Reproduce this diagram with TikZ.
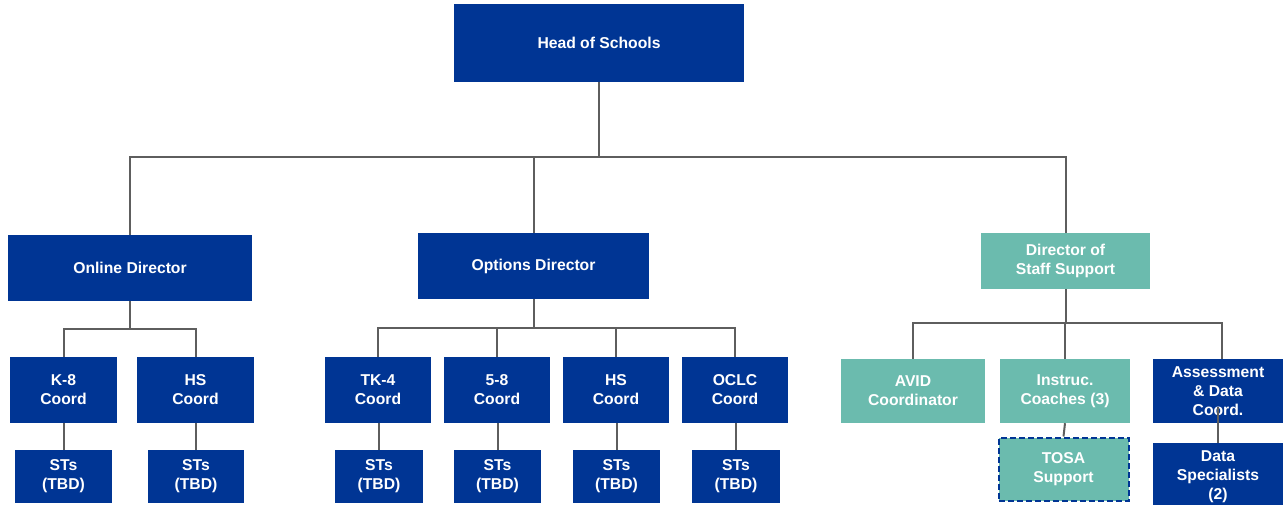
\documentclass[tikz,border=0pt]{standalone}
\usepackage{fontspec}
\setmainfont{Liberation Sans}
\definecolor{navy}{HTML}{003594}
\definecolor{tealbox}{HTML}{6BBBAE}
\definecolor{connc}{HTML}{5E5E5E}
\tikzset{
  orgbox/.style={fill=navy, text=white, font=\bfseries\fontsize{15.7}{19}\selectfont, align=center, inner sep=0pt},
  tealorg/.style={orgbox, fill=tealbox},
  cline/.style={draw=connc, line width=2pt},
}
\begin{document}
\begin{tikzpicture}[x=1pt,y=-1pt]
\useasboundingbox (0,0) rectangle (1283,505);
% level 0
\node[orgbox, minimum width=290, minimum height=78] (head) at (599,43) {Head of Schools};
% level 1
\node[orgbox, minimum width=244, minimum height=66] (online) at (130,268) {Online Director};
\node[orgbox, minimum width=231, minimum height=66] (options) at (533.5,266) {Options Director};
\node[tealorg, minimum width=169, minimum height=56] (dss) at (1065.5,261) {Director of\\Staff Support};
% level 2
\node[orgbox, minimum width=107, minimum height=66] (k8) at (63.5,390) {K-8\\Coord};
\node[orgbox, minimum width=117, minimum height=66] (hsA) at (195.5,390) {HS\\Coord};
\node[orgbox, minimum width=106, minimum height=66] (tk4) at (378,390) {TK-4\\Coord};
\node[orgbox, minimum width=106, minimum height=66] (g58) at (497,390) {5-8\\Coord};
\node[orgbox, minimum width=106, minimum height=66] (hsB) at (616,390) {HS\\Coord};
\node[orgbox, minimum width=106, minimum height=66] (oclc) at (735,390) {OCLC\\Coord};
\node[tealorg, minimum width=144, minimum height=64] (avid) at (913,391) {AVID\\Coordinator};
\node[tealorg, minimum width=130, minimum height=64] (coach) at (1065,391) {Instruc.\\Coaches (3)};
\node[orgbox, minimum width=130, minimum height=64] (assess) at (1218,391) {Assessment\\\& Data\\Coord.};
% level 3
\node[orgbox, minimum width=97, minimum height=53] (stA) at (63.5,476.5) {STs\\(TBD)};
\node[orgbox, minimum width=96, minimum height=53] (stB) at (196,476.5) {STs\\(TBD)};
\node[orgbox, minimum width=88, minimum height=53] (stC) at (379,476.5) {STs\\(TBD)};
\node[orgbox, minimum width=87, minimum height=53] (stD) at (497.5,476.5) {STs\\(TBD)};
\node[orgbox, minimum width=87, minimum height=53] (stE) at (616.5,476.5) {STs\\(TBD)};
\node[orgbox, minimum width=88, minimum height=53] (stF) at (736,476.5) {STs\\(TBD)};
\node[tealorg, minimum width=130, minimum height=63, draw=navy, dash pattern=on 6pt off 3pt, line width=2pt] (tosa) at (1063.5,469) {TOSA\\Support};
\node[orgbox, minimum width=130, minimum height=68] (data) at (1218,477) {Data\\Specialists\\(2)};
% connectors level 0 -> 1
\draw[cline] (head.south) -- (head.south |- 0,157);
\draw[cline] (head.south |- 0,157) -| (online.north);
\draw[cline] (head.south |- 0,157) -| (options.north);
\draw[cline] (head.south |- 0,157) -| (dss.north);
% online
\draw[cline] (online.south) -- (online.south |- 0,329);
\draw[cline] (online.south |- 0,329) -| (k8.north);
\draw[cline] (online.south |- 0,329) -| (hsA.north);
% options
\draw[cline] (options.south) -- (options.south |- 0,328);
\draw[cline] (options.south |- 0,328) -| (tk4.north);
\draw[cline] (options.south |- 0,328) -| (g58.north);
\draw[cline] (options.south |- 0,328) -| (hsB.north);
\draw[cline] (options.south |- 0,328) -| (oclc.north);
% staff support
\draw[cline] (dss.south) -- (dss.south |- 0,323);
\draw[cline] (dss.south |- 0,323) -| (avid.north);
\draw[cline] (dss.south |- 0,323) -| (coach.north);
\draw[cline] (dss.south |- 0,323) -| ([xshift=4pt]assess.north);
% coord -> STs
\draw[cline] (stA.north) -- (stA.north |- k8.south);
\draw[cline] (stB.north) -- (stB.north |- hsA.south);
\draw[cline] (stC.north) -- (stC.north |- tk4.south);
\draw[cline] (stD.north) -- (stD.north |- g58.south);
\draw[cline] (stE.north) -- (stE.north |- hsB.south);
\draw[cline] (stF.north) -- (stF.north |- oclc.south);
\draw[cline] (coach.south) -- (tosa.north);
\draw[cline] (data.north) -- ([yshift=16pt]assess.south);
\end{tikzpicture}
\end{document}
